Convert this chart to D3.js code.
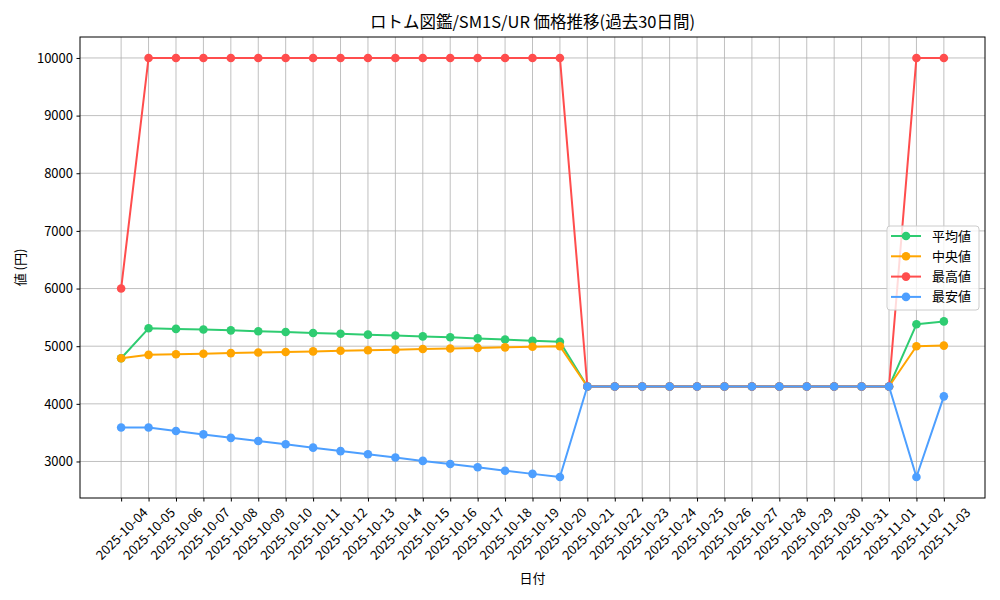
<!DOCTYPE html>
<html>
<head>
<meta charset="utf-8">
<script src="https://cdn.jsdelivr.net/npm/d3@7"></script>
<style>
  html, body { margin: 0; padding: 0; background: #fff; }
  text { font-family: "Noto Sans CJK JP", "DejaVu Sans", sans-serif; fill: #000; }
</style>
</head>
<body>
<div id="chart"></div>
<script>
const dates = [
  '2025-10-04', '2025-10-05', '2025-10-06', '2025-10-07', '2025-10-08', '2025-10-09',
  '2025-10-10', '2025-10-11', '2025-10-12', '2025-10-13', '2025-10-14', '2025-10-15',
  '2025-10-16', '2025-10-17', '2025-10-18', '2025-10-19', '2025-10-20', '2025-10-21',
  '2025-10-22', '2025-10-23', '2025-10-24', '2025-10-25', '2025-10-26', '2025-10-27',
  '2025-10-28', '2025-10-29', '2025-10-30', '2025-10-31', '2025-11-01', '2025-11-02',
  '2025-11-03'
];
const avgPrice = [
  4790, 5310, 5300, 5290, 5275, 5260, 5245, 5230, 5215, 5200, 5185, 5170, 5155, 5135, 5115, 5095,
  5075, 4300, 4300, 4300, 4300, 4300, 4300, 4300, 4300, 4300, 4300, 4300, 4300, 5380, 5430
];
const medianPrice = [
  4790, 4850, 4860, 4870, 4880, 4890, 4900, 4910, 4920, 4930, 4940, 4950, 4960, 4970, 4980, 4990,
  5000, 4300, 4300, 4300, 4300, 4300, 4300, 4300, 4300, 4300, 4300, 4300, 4300, 5000, 5010
];
const maxPrice = [
  6000, 10000, 10000, 10000, 10000, 10000, 10000, 10000, 10000, 10000, 10000, 10000, 10000, 10000, 10000, 10000,
  10000, 4300, 4300, 4300, 4300, 4300, 4300, 4300, 4300, 4300, 4300, 4300, 4300, 10000, 10000
];
const minPrice = [
  3590, 3590, 3530, 3470, 3410, 3355, 3300, 3240, 3180, 3125, 3070, 3010, 2955, 2900, 2840, 2785,
  2730, 4300, 4300, 4300, 4300, 4300, 4300, 4300, 4300, 4300, 4300, 4300, 4300, 2730, 4130
];
const seriesNames = ['平均値', '中央値', '最高値', '最安値'];
const seriesColors = ['#2ecc71', '#ffa500', '#ff4d4d', '#4d9fff'];
const yTicks = [3000, 4000, 5000, 6000, 7000, 8000, 9000, 10000];
const title = 'ロトム図鑑/SM1S/UR 価格推移(過去30日間)';

const width = 1000, height = 600;
const margin = { top: 37, left: 80, right: 15, bottom: 102 };
const parse = d3.timeParse('%Y-%m-%d');
const days = dates.map(parse);
const msPerDay = 1000 * 60 * 60 * 24;

const svg = d3.select('#chart').append('svg')
  .attr('width', width)
  .attr('height', height);

// scales, matplotlib-like 5% padding
const xExt = d3.extent(days);
const xPad = (xExt[1] - xExt[0]) * 0.05;
const x = d3.scaleTime()
  .domain([xExt[0].getTime() - xPad, xExt[1].getTime() + xPad])
  .range([margin.left, width - margin.right]);
const allVals = [].concat(avgPrice, medianPrice, maxPrice, minPrice);
const yExt = d3.extent(allVals);
const yPad = (yExt[1] - yExt[0]) * 0.05;
const y = d3.scaleLinear()
  .domain([yExt[0] - yPad, yExt[1] + yPad])
  .range([height - margin.bottom, margin.top]);

const plotBottom = height - margin.bottom;
const plotRight = width - margin.right;

// grid
const grid = svg.append('g');
grid.selectAll('line.vx').data(days).enter().append('line')
  .attr('x1', d => x(d)).attr('x2', d => x(d))
  .attr('y1', margin.top).attr('y2', plotBottom)
  .attr('stroke', '#b0b0b0').attr('stroke-width', 0.8);
grid.selectAll('line.hy').data(yTicks).enter().append('line')
  .attr('x1', margin.left).attr('x2', plotRight)
  .attr('y1', d => y(d)).attr('y2', d => y(d))
  .attr('stroke', '#b0b0b0').attr('stroke-width', 0.8);

// lines + markers
const series = [avgPrice, medianPrice, maxPrice, minPrice];
series.forEach((vals, i) => {
  const pts = vals.map((v, j) => ({ day: days[j], v }));
  const line = d3.line().x(d => x(d.day)).y(d => y(d.v));
  const g = svg.append('g');
  g.append('path')
    .attr('d', line(pts))
    .attr('fill', 'none')
    .attr('stroke', seriesColors[i])
    .attr('stroke-width', 2)
    .attr('stroke-linejoin', 'round');
  g.selectAll('circle').data(pts).enter().append('circle')
    .attr('cx', d => x(d.day))
    .attr('cy', d => y(d.v))
    .attr('r', 4.3)
    .attr('fill', seriesColors[i]);
});

// frame
svg.append('rect')
  .attr('x', margin.left).attr('y', margin.top)
  .attr('width', plotRight - margin.left)
  .attr('height', plotBottom - margin.top)
  .attr('fill', 'none').attr('stroke', '#000').attr('stroke-width', 1);

// y axis
const yAxis = svg.append('g')
  .attr('transform', `translate(${margin.left},0)`)
  .call(d3.axisLeft(y).tickValues(yTicks).tickSize(3.5).tickPadding(3.5).tickFormat(d3.format('d')));
yAxis.select('.domain').remove();
yAxis.selectAll('text').style('font-size', '13px').attr('fill', '#000');
yAxis.selectAll('line').attr('stroke', '#000');

// x axis, ticks only, labels rotated 45deg and centered like matplotlib
const xAxis = svg.append('g')
  .attr('transform', `translate(0,${plotBottom})`)
  .call(d3.axisBottom(x).tickValues(days).tickSize(3.5).tickFormat(''));
xAxis.select('.domain').remove();
xAxis.selectAll('line').attr('stroke', '#000');

const labels = svg.append('g');
days.forEach((d, i) => {
  const t = labels.append('text')
    .text(dates[i])
    .style('font-size', '13px')
    .attr('text-anchor', 'middle')
    .attr('dominant-baseline', 'central');
  const L = t.node().getComputedTextLength();
  const half = (L + 13) * Math.SQRT1_2 / 2;
  t.attr('transform', `translate(${x(d)},${plotBottom + 7 + half}) rotate(-45)`);
});

// titles
svg.append('text')
  .attr('x', (margin.left + plotRight) / 2).attr('y', 28)
  .attr('text-anchor', 'middle')
  .style('font-size', '16.5px')
  .text(title);
svg.append('text')
  .attr('x', (margin.left + plotRight) / 2).attr('y', 583)
  .attr('text-anchor', 'middle')
  .style('font-size', '13px')
  .text('日付');
svg.append('text')
  .attr('transform', `translate(25,${(margin.top + plotBottom) / 2}) rotate(-90)`)
  .attr('text-anchor', 'middle')
  .style('font-size', '13px')
  .text('値 (円)');

// legend
const lg = svg.append('g').attr('transform', 'translate(887,226)');
lg.append('rect')
  .attr('width', 92).attr('height', 84)
  .attr('rx', 3)
  .attr('fill', '#fff').attr('fill-opacity', 0.8)
  .attr('stroke', '#cccccc');
seriesNames.forEach((name, i) => {
  const row = lg.append('g').attr('transform', `translate(0,${10 + i * 20.3})`);
  row.append('line')
    .attr('x1', 4).attr('x2', 34)
    .attr('stroke', seriesColors[i]).attr('stroke-width', 2);
  row.append('circle')
    .attr('cx', 19).attr('r', 4.3)
    .attr('fill', seriesColors[i]);
  row.append('text')
    .attr('x', 45).attr('dy', '0.35em')
    .style('font-size', '13px')
    .text(name);
});
</script>
</body>
</html>
